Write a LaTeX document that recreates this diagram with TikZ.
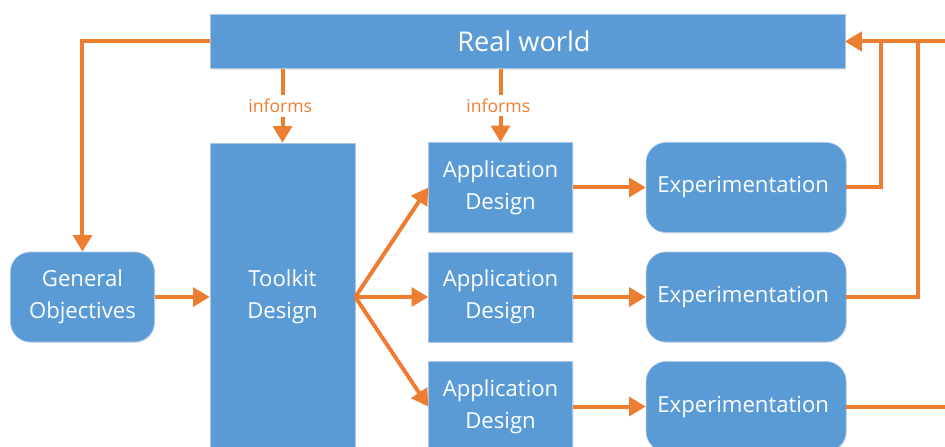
\documentclass[tikz,border=0pt]{standalone}
\usepackage{fontspec}
\setmainfont{Open Sans}
\usetikzlibrary{positioning,arrows.meta,shadows}
\definecolor{boxblue}{HTML}{5B9BD5}
\definecolor{boxedge}{HTML}{A9C6E8}
\definecolor{flowor}{HTML}{ED7D31}

\begin{document}
\begin{tikzpicture}[x = 0.75pt, y = -0.75pt,
    every node/.style = { align = center, text = white, font = \fontsize{16.6}{24}\selectfont },
    block/.style = { draw = boxedge, fill = boxblue, line width = .4pt, inner sep = 0pt,
      minimum width = 108pt, minimum height = 67.5pt,
      drop shadow={opacity=.15,shadow xshift=.8pt,shadow yshift=-.8pt} },
    softbox/.style = { block, rounded corners = 15pt },
    flow/.style = { draw = flowor, line width = 3pt, -{Triangle[length = 12.5pt, width = 14pt]} },
    informs/.style = { fill = white, text = flowor, inner sep = 3pt, font = \fontsize{13.2}{15}\selectfont }
  ]
  \useasboundingbox (0,0) rectangle (945,446);

  \node [block, minimum width = 108.75pt, minimum height = 231pt] (toolkit) at (282.5,297) { Toolkit \\ Design };
  \node [softbox, left = 41.25pt of toolkit] (goals) { General \\ Objectives };
  \node [block, right = 54.75pt of toolkit] (app2) { Application \\ Design };
  \node [block, above = 14.25pt of app2] (app1) { Application \\ Design };
  \node [block, below = 14.25pt of app2] (app3) { Application \\ Design };
  \node [softbox, minimum width = 150pt, right = 54.75pt of app1] (exp1) { Experimentation };
  \node [softbox, minimum width = 150pt, right = 54.75pt of app2] (exp2) { Experimentation };
  \node [softbox, minimum width = 150pt, right = 54.75pt of app3] (exp3) { Experimentation };
  \node [block, minimum width = 476.25pt, minimum height = 40.5pt, font = \fontsize{20.4}{24}\selectfont,
    above right = 55.5pt and 0pt of toolkit.north west] (world) { Real world };

  \draw [flow] (world.south -| toolkit.north) -- node [informs] { informs } (toolkit.north);
  \draw [flow] (world.south -| app1.north) -- node [informs] { informs } (app1.north);
  \draw [flow] (world.west) -| (goals.north);
  \draw [flow] (goals) -- (toolkit);
  \foreach \i in {1,2,3} {
    \draw [flow] (toolkit.east) -- (app\i.west);
    \draw [flow] (app\i) -- (exp\i);
  }
  \draw [flow] (exp1.east) -- ++(35,0) |- (world.east);
  \draw [flow] (exp2.east) -- ++(72,0) |- (world.east);
  \draw [flow] (exp3.east) -- ++(130,0) |- (world.east);
\end{tikzpicture}
\end{document}
